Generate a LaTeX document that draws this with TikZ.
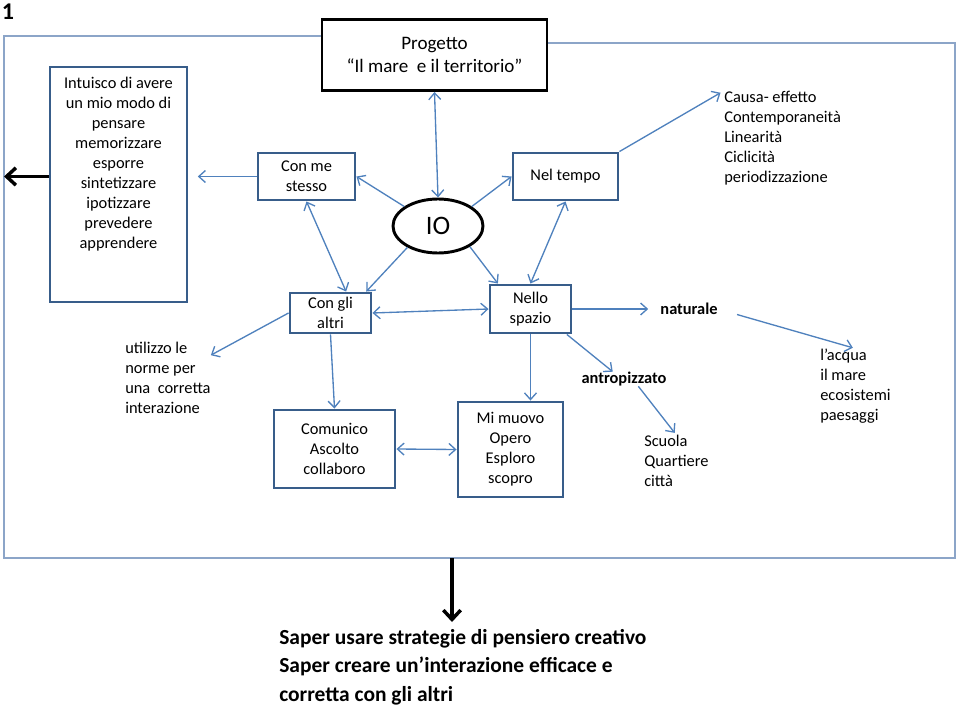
\documentclass[tikz,border=0pt]{standalone}
\usepackage{fontspec}
\setmainfont{Carlito}
\usetikzlibrary{arrows.meta,shapes.geometric}

\definecolor{linkblue}{RGB}{79,129,189}
\definecolor{boxblue}{RGB}{56,93,138}
\definecolor{framegrey}{RGB}{140,165,200}

\begin{document}
\begin{tikzpicture}[x=0.75pt,y=-0.75pt,
		txt/.style={inner sep=0pt, font=\fontsize{12.3}{15}\selectfont},
		boldtxt/.style={inner sep=0pt, font=\fontsize{12.3}{15}\selectfont\bfseries},
		box/.style={txt, draw=boxblue, line width=2.2pt, fill=white, align=center},
		blackbox/.style={txt, draw=black, line width=2.2pt, fill=white, align=center},
		link/.style={draw=linkblue, line width=1pt, -{Straight Barb[length=5pt,width=9pt]}},
		bilink/.style={draw=linkblue, line width=1pt, {Straight Barb[length=5pt,width=9pt]}-{Straight Barb[length=5pt,width=9pt]}},
		bigarrow/.style={draw=black, line width=2.6pt, -{Straight Barb[length=7pt,width=13pt]}}]
			\useasboundingbox (0,0) rectangle (960,706);

			\node[inner sep=0pt, font=\fontsize{18}{20}\selectfont\bfseries] (num) at (8,12) {1};

			% outer frame
			\draw[framegrey, line width=1pt] (434,36) -- (4,36) -- (4,558) -- (955,558) -- (955,43) -- (434,43);

			% boxes
			\node[box, minimum width=102.75pt, minimum height=176.25pt] (intuisco) at (118.5,184.5) {};
			\node[txt, align=center, anchor=north] (intuiscotxt) at (118.5,77) {Intuisco di avere\\un mio modo di\\pensare\\memorizzare\\esporre\\sintetizzare\\ipotizzare\\prevedere\\apprendere};
			\node[box, minimum width=72.75pt, minimum height=35.25pt] (conme) at (306.5,176.5) {Con me\\stesso};
			\node[blackbox, minimum width=168.75pt, minimum height=53.25pt, font=\fontsize{14.3}{17.3}\selectfont] (progetto) at (434.5,55) {Progetto\\“Il mare~ e il territorio”};
			\node[blackbox, ellipse, minimum width=67.5pt, minimum height=40.5pt, font=\fontsize{20}{24}\selectfont] (io) at (438,226) {IO};
			\node[box, minimum width=78.75pt, minimum height=35.25pt] (tempo) at (565.5,176.5) {Nel tempo};
			\node[box, minimum width=60.75pt, minimum height=30pt] (altri) at (330.5,313) {Con gli\\altri};
			\node[box, minimum width=60.75pt, minimum height=36pt] (spazio) at (530.5,309) {Nello\\spazio};
			\node[box, minimum width=90.75pt, minimum height=58.5pt] (comunico) at (334.5,449) {Comunico\\Ascolto\\collaboro};
			\node[box, minimum width=78.75pt, minimum height=71.25pt] (muovo) at (510.5,449.5) {Mi muovo\\Opero\\Esploro\\scopro};

			% free texts
			\node[txt, align=left, anchor=west] (causa) at (724,138) {Causa- effetto\\Contemporaneità\\Linearità\\Ciclicità\\periodizzazione};
			\node[txt, align=left, anchor=west] (utilizzo) at (125,378) {utilizzo le\\norme per\\una~ corretta\\interazione};
			\node[boldtxt] (naturale) at (689,309) {naturale};
			\node[boldtxt] (antropizzato) at (624,379) {antropizzato};
			\node[txt, align=left, anchor=west] (scuola) at (644,461) {Scuola\\Quartiere\\città};
			\node[txt, align=left, anchor=west] (acqua) at (820,386) {l’acqua\\il mare\\ecosistemi\\paesaggi};
			\node[inner sep=0pt, align=left, anchor=west, font=\fontsize{16.1}{21.4}\selectfont\bfseries] (result) at (279,667) {Saper usare strategie di pensiero creativo\\Saper creare un’interazione efficace e\\corretta con gli altri};

			% links around IO
			\draw[bilink] (progetto.south) -- (io.north);
			\draw[link] (io.150) -- (conme.east);
			\draw[link] (io.30) -- (tempo.west);
			\draw[link] (io.215) -- (altri.31);
			\draw[link] (io.-33) -- (spazio.142);
			\draw[bilink] (conme.south) -- (altri.54);
			\draw[bilink] (tempo.south) -- (spazio.north);
			\draw[bilink] (altri.east) -- (spazio.west);
			\draw[link, shorten >=7pt] (conme.west) -- (conme.west -| intuisco.east);

			% links to the texts
			\draw[link, shorten >=3pt] (tempo.north east) -- (causa.north west);
			\draw[link] (altri.west) -- (utilizzo.28);
			\draw[link] (altri.south) -- (comunico.north);
			\draw[bilink] (comunico.east) -- (muovo.west);
			\draw[link] (spazio.south) -- (spazio.south |- muovo.north);
			\draw[link, shorten >=9pt] (spazio.east) -- (naturale.west);
			\draw[link] (spazio.-35) -- (antropizzato.147);
			\draw[link, shorten <=15pt, shorten >=2pt] (naturale.east) -- (acqua.north);
			\draw[link, shorten >=2pt] (antropizzato.-27) -- (scuola.north);

			% black arrows
			\coordinate (outleft) at (4,176.5);
			\coordinate (framemid) at (452,558);
			\coordinate (resulttip) at (452,622);
			\draw[bigarrow] (intuisco.west |- conme) -- (outleft);
			\draw[bigarrow] (framemid) -- (resulttip);
		\end{tikzpicture}
\end{document}
